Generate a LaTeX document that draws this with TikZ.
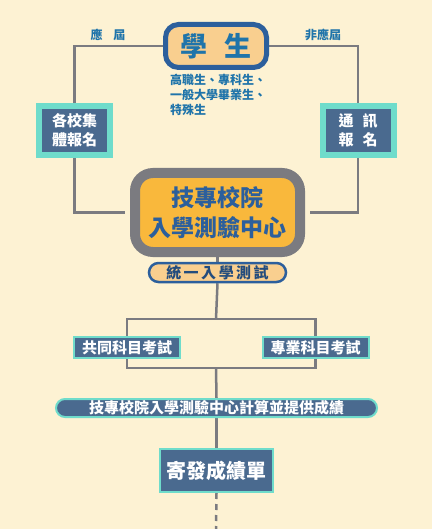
\documentclass[tikz,border=0pt]{standalone}
\usepackage{fontspec}
\newfontfamily\cjk{Noto Sans CJK TC}
\usepackage{tikz}
\usetikzlibrary{calc,backgrounds}

\definecolor{bgcream}{HTML}{FDF2D3}
\definecolor{navy}{HTML}{2C5F9C}
\definecolor{slate}{HTML}{4A6A8F}
\definecolor{teal}{HTML}{6FDCCB}
\definecolor{greyline}{HTML}{7B7B80}
\definecolor{peach}{HTML}{F9CF8F}
\definecolor{amber}{HTML}{F9B83C}
\definecolor{skyblue}{HTML}{1F74AA}

\begin{document}
\begin{tikzpicture}[x=1pt,y=-1pt,
  every node/.style={font=\cjk\bfseries, inner sep=0pt, align=center},
  darkbox/.style={draw=teal, fill=slate, text=white},
  conn/.style={draw=greyline, line width=2.5pt}]
  \useasboundingbox (0,0) rectangle (432,529);

  \node[draw=navy, fill=peach, line width=5pt, rounded corners=13pt,
        minimum width=101pt, minimum height=43pt, text=skyblue,
        font=\cjk\bfseries\fontsize{27}{30}\selectfont] (student) at (216,46) {學\hspace{0.6em}生}; % 學生
  \node[anchor=north west, align=left, text=skyblue,
        font=\cjk\bfseries\fontsize{12}{15}\selectfont] (kinds) at (170,74)
        {高職生、專科生、\\一般大學畢業生、\\特殊生}; % 身分說明
  \node[text=skyblue, font=\cjk\bfseries\fontsize{12}{13}\selectfont] (curr) at (108,35) {應\hspace{0.9em}屆};
  \node[text=skyblue, font=\cjk\bfseries\fontsize{12}{13}\selectfont] (prev) at (323,35) {非應屆};

  \node[darkbox, line width=6pt, minimum width=71pt, minimum height=49pt,
        font=\cjk\bfseries\fontsize{15}{19}\selectfont] (groupreg) at (74.5,130.5) {各校集\\體報名}; % 集體報名
  \node[darkbox, line width=6pt, minimum width=71pt, minimum height=49pt,
        font=\cjk\bfseries\fontsize{15}{19}\selectfont] (mailreg) at (358,130.5) {通\hspace{0.6em}訊\\報\hspace{0.6em}名}; % 通訊報名

  \node[draw=greyline, fill=amber, line width=10pt, rounded corners=18pt,
        minimum width=165pt, minimum height=79pt, text=navy,
        font=\cjk\bfseries\fontsize{23}{30}\selectfont] (center) at (217.5,212.5) {技專校院\\入學測驗中心}; % 測驗中心
  \node[draw=navy, fill=peach, line width=2.5pt, rounded corners=9.5pt,
        minimum width=137pt, minimum height=19pt, text=navy!80!black,
        font=\cjk\bfseries\fontsize{15}{16}\selectfont] (exam) at (217.5,272.5) {統\,一\,入\,學\,測\,試};

  \node[darkbox, line width=2pt, minimum width=106pt, minimum height=21pt,
        font=\cjk\bfseries\fontsize{15}{16}\selectfont] (common) at (127,347.5) {共同科目考試};
  \node[darkbox, line width=2pt, minimum width=106pt, minimum height=21pt,
        font=\cjk\bfseries\fontsize{15}{16}\selectfont] (major) at (315.5,347.5) {專業科目考試};

  \node[darkbox, line width=2pt, rounded corners=9pt, minimum width=321pt, minimum height=18pt,
        font=\cjk\bfseries\fontsize{15}{16}\selectfont] (score) at (216.5,408) {技專校院入學測驗中心計算並提供成績};
  \node[darkbox, line width=2pt, minimum width=113pt, minimum height=43pt,
        font=\cjk\bfseries\fontsize{20}{24}\selectfont] (report) at (216.5,470.5) {寄發成績單}; % 成績單

  \coordinate (split) at (216,319);
  \coordinate (join) at (216,368);
  \coordinate (tail) at (216,529);

  \begin{pgfonlayer}{background}
  \fill[bgcream] (0,0) rectangle (432,529); % 背景
  \path[conn] (student.west) -| (groupreg.north); % 應屆
  \path[conn] (student.east) -| (mailreg.north); % 非應屆
  \path[conn] (groupreg.south) |- ($(center.west)+(-5,0)$);
  \path[conn] (mailreg.south) |- ($(center.east)+(5,0)$);
  \path[conn] (center.south) -- (exam.north);
  \path[conn] (exam.south) -- (split);
  \path[conn] (common.north) |- (split) -| (major.north);
  \path[conn] (common.south) |- (join) -| (major.south);
  \path[conn] (join) -- (score.north);
  \path[conn] (score.south) -- (report.north);
  \path[conn, dash pattern=on 6pt off 5pt] (report.south) -- (tail); % 後續
  \end{pgfonlayer}
\end{tikzpicture}
\end{document}
